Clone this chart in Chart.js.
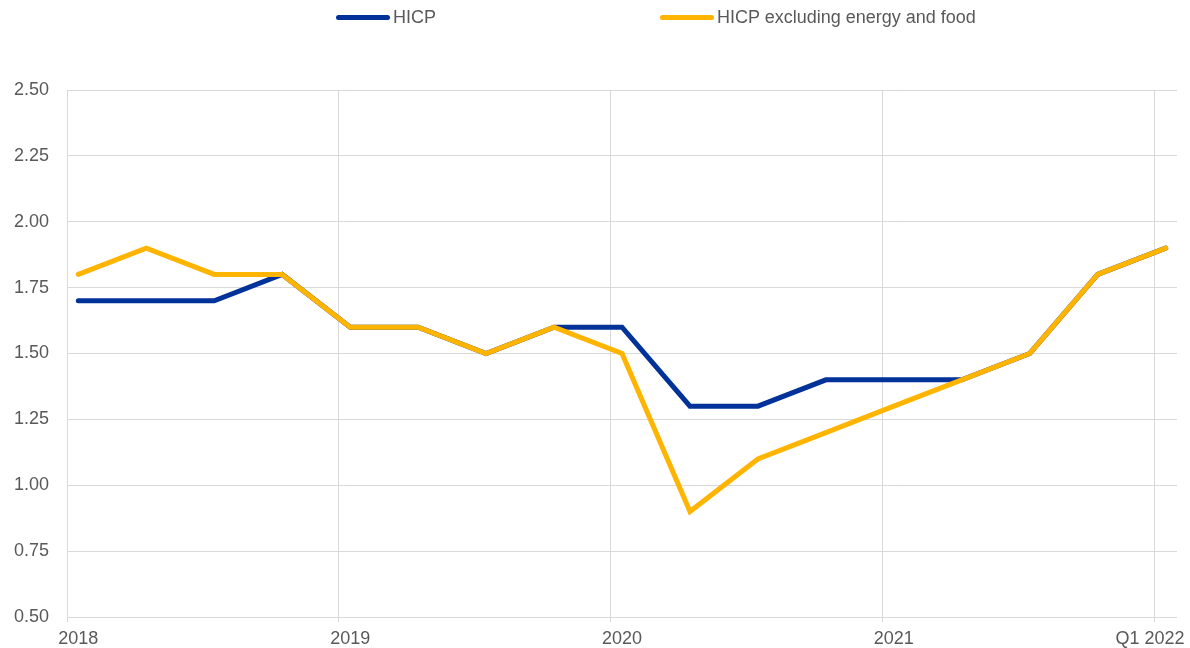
<!DOCTYPE html>
<html>
<head>
<meta charset="utf-8">
<script src="https://cdn.jsdelivr.net/npm/chart.js@4"></script>
<style>
  html, body { margin: 0; padding: 0; background: #fff; }
  #wrap { position: relative; width: 1190px; height: 648px; }
  .leg { position: absolute; top: 5px; height: 24px; display: flex; align-items: center;
         font-family: "Liberation Sans", Arial, sans-serif; font-size: 18px; color: #595959; }
  .leg span.sw { display: inline-block; width: 54px; height: 5px; border-radius: 3px; margin-right: 3px; }
</style>
</head>
<body>
<div id="wrap">
  <div class="leg" style="left:336px"><span class="sw" style="background:#003299"></span>HICP</div>
  <div class="leg" style="left:660px"><span class="sw" style="background:#ffb400"></span>HICP excluding energy and food</div>
  <canvas id="myChart" width="1190" height="648"></canvas>
</div>
<script>
// quarterly data, 2018 Q1 .. 2022 Q1
const quarters = ["2018 Q1", "2018 Q2", "2018 Q3", "2018 Q4",
    "2019 Q1", "2019 Q2", "2019 Q3", "2019 Q4",
    "2020 Q1", "2020 Q2", "2020 Q3", "2020 Q4",
    "2021 Q1", "2021 Q2", "2021 Q3", "2021 Q4", "2022 Q1"];
const hicp = [1.7, 1.7, 1.7, 1.8, 1.6, 1.6, 1.5, 1.6, 1.6, 1.3, 1.3, 1.4, 1.4, 1.4, 1.5, 1.8, 1.9];
const hicpCore = [1.8, 1.9, 1.8, 1.8, 1.6, 1.6, 1.5, 1.6, 1.5, 0.9, 1.1, 1.2, 1.3, 1.4, 1.5, 1.8, 1.9];
const yearLabels = ["2018", "2019", "2020", "2021", "Q1 2022"];
const yearTickPos = [0, 4, 8, 12, 15.77];   // in quarter index units
const yearLines = [-1 / 6, 4 - 1 / 6, 8 - 1 / 6, 12 - 1 / 6, 16 - 1 / 6];

const toPts = arr => arr.map((v, i) => ({ x: i, y: v }));

const gridCol = "#d9d9d9";
const txtCol = "#595959";
const fnt = { family: "'Liberation Sans', Arial, sans-serif", size: 18, lineHeight: 1 };

const xMin = -1 / 6;
const xMax = 16 + 1 / 6;

const ctx = document.getElementById("myChart");

new Chart(ctx, {
    type: "line",
    data: {
        datasets: [
            {
                label: "HICP",
                data: toPts(hicp),
                borderColor: "#003299",
                backgroundColor: "#003299",
                borderWidth: 5,
                pointRadius: 0,
                borderCapStyle: "round",
                order: 1,
            },
            {
                label: "HICP excluding energy and food",
                data: toPts(hicpCore),
                borderColor: "#ffb400",
                backgroundColor: "#ffb400",
                borderWidth: 5,
                pointRadius: 0,
                borderCapStyle: "round",
                order: 0,
            },
        ],
    },
    options: {
        responsive: false,
        animation: false,
        layout: { padding: { left: 0, right: 13, top: 90, bottom: 0 } },
        plugins: {
            legend: { display: false },
            tooltip: { enabled: false },
        },
        scales: {
            x: {
                type: "linear",
                position: "bottom",
                min: xMin,
                max: xMax,
                afterBuildTicks: ax => { ax.ticks = yearLines.map(v => ({ value: v })); },
                ticks: { display: false },
                grid: { color: gridCol, tickLength: 5 },
                border: { display: false },
            },
            xl: {
                type: "linear",
                position: "bottom",
                weight: 1,
                min: xMin,
                max: xMax,
                afterBuildTicks: ax => { ax.ticks = yearTickPos.map(v => ({ value: v })); },
                ticks: {
                    autoSkip: false,
                    maxRotation: 0,
                    padding: 0,
                    color: txtCol,
                    font: fnt,
                    callback: (v, i) => yearLabels[i],
                },
                grid: { display: false, drawTicks: true, tickLength: 8 },
                border: { display: false },
            },
            y: {
                min: 0.5,
                max: 2.5,
                afterFit: ax => { ax.width = 67; },
                ticks: {
                    stepSize: 0.25,
                    padding: 18,
                    color: txtCol,
                    font: fnt,
                    callback: v => v.toFixed(2),
                },
                grid: { color: gridCol, drawTicks: false },
                border: { display: false },
            },
        },
    },
});
</script>
</body>
</html>
